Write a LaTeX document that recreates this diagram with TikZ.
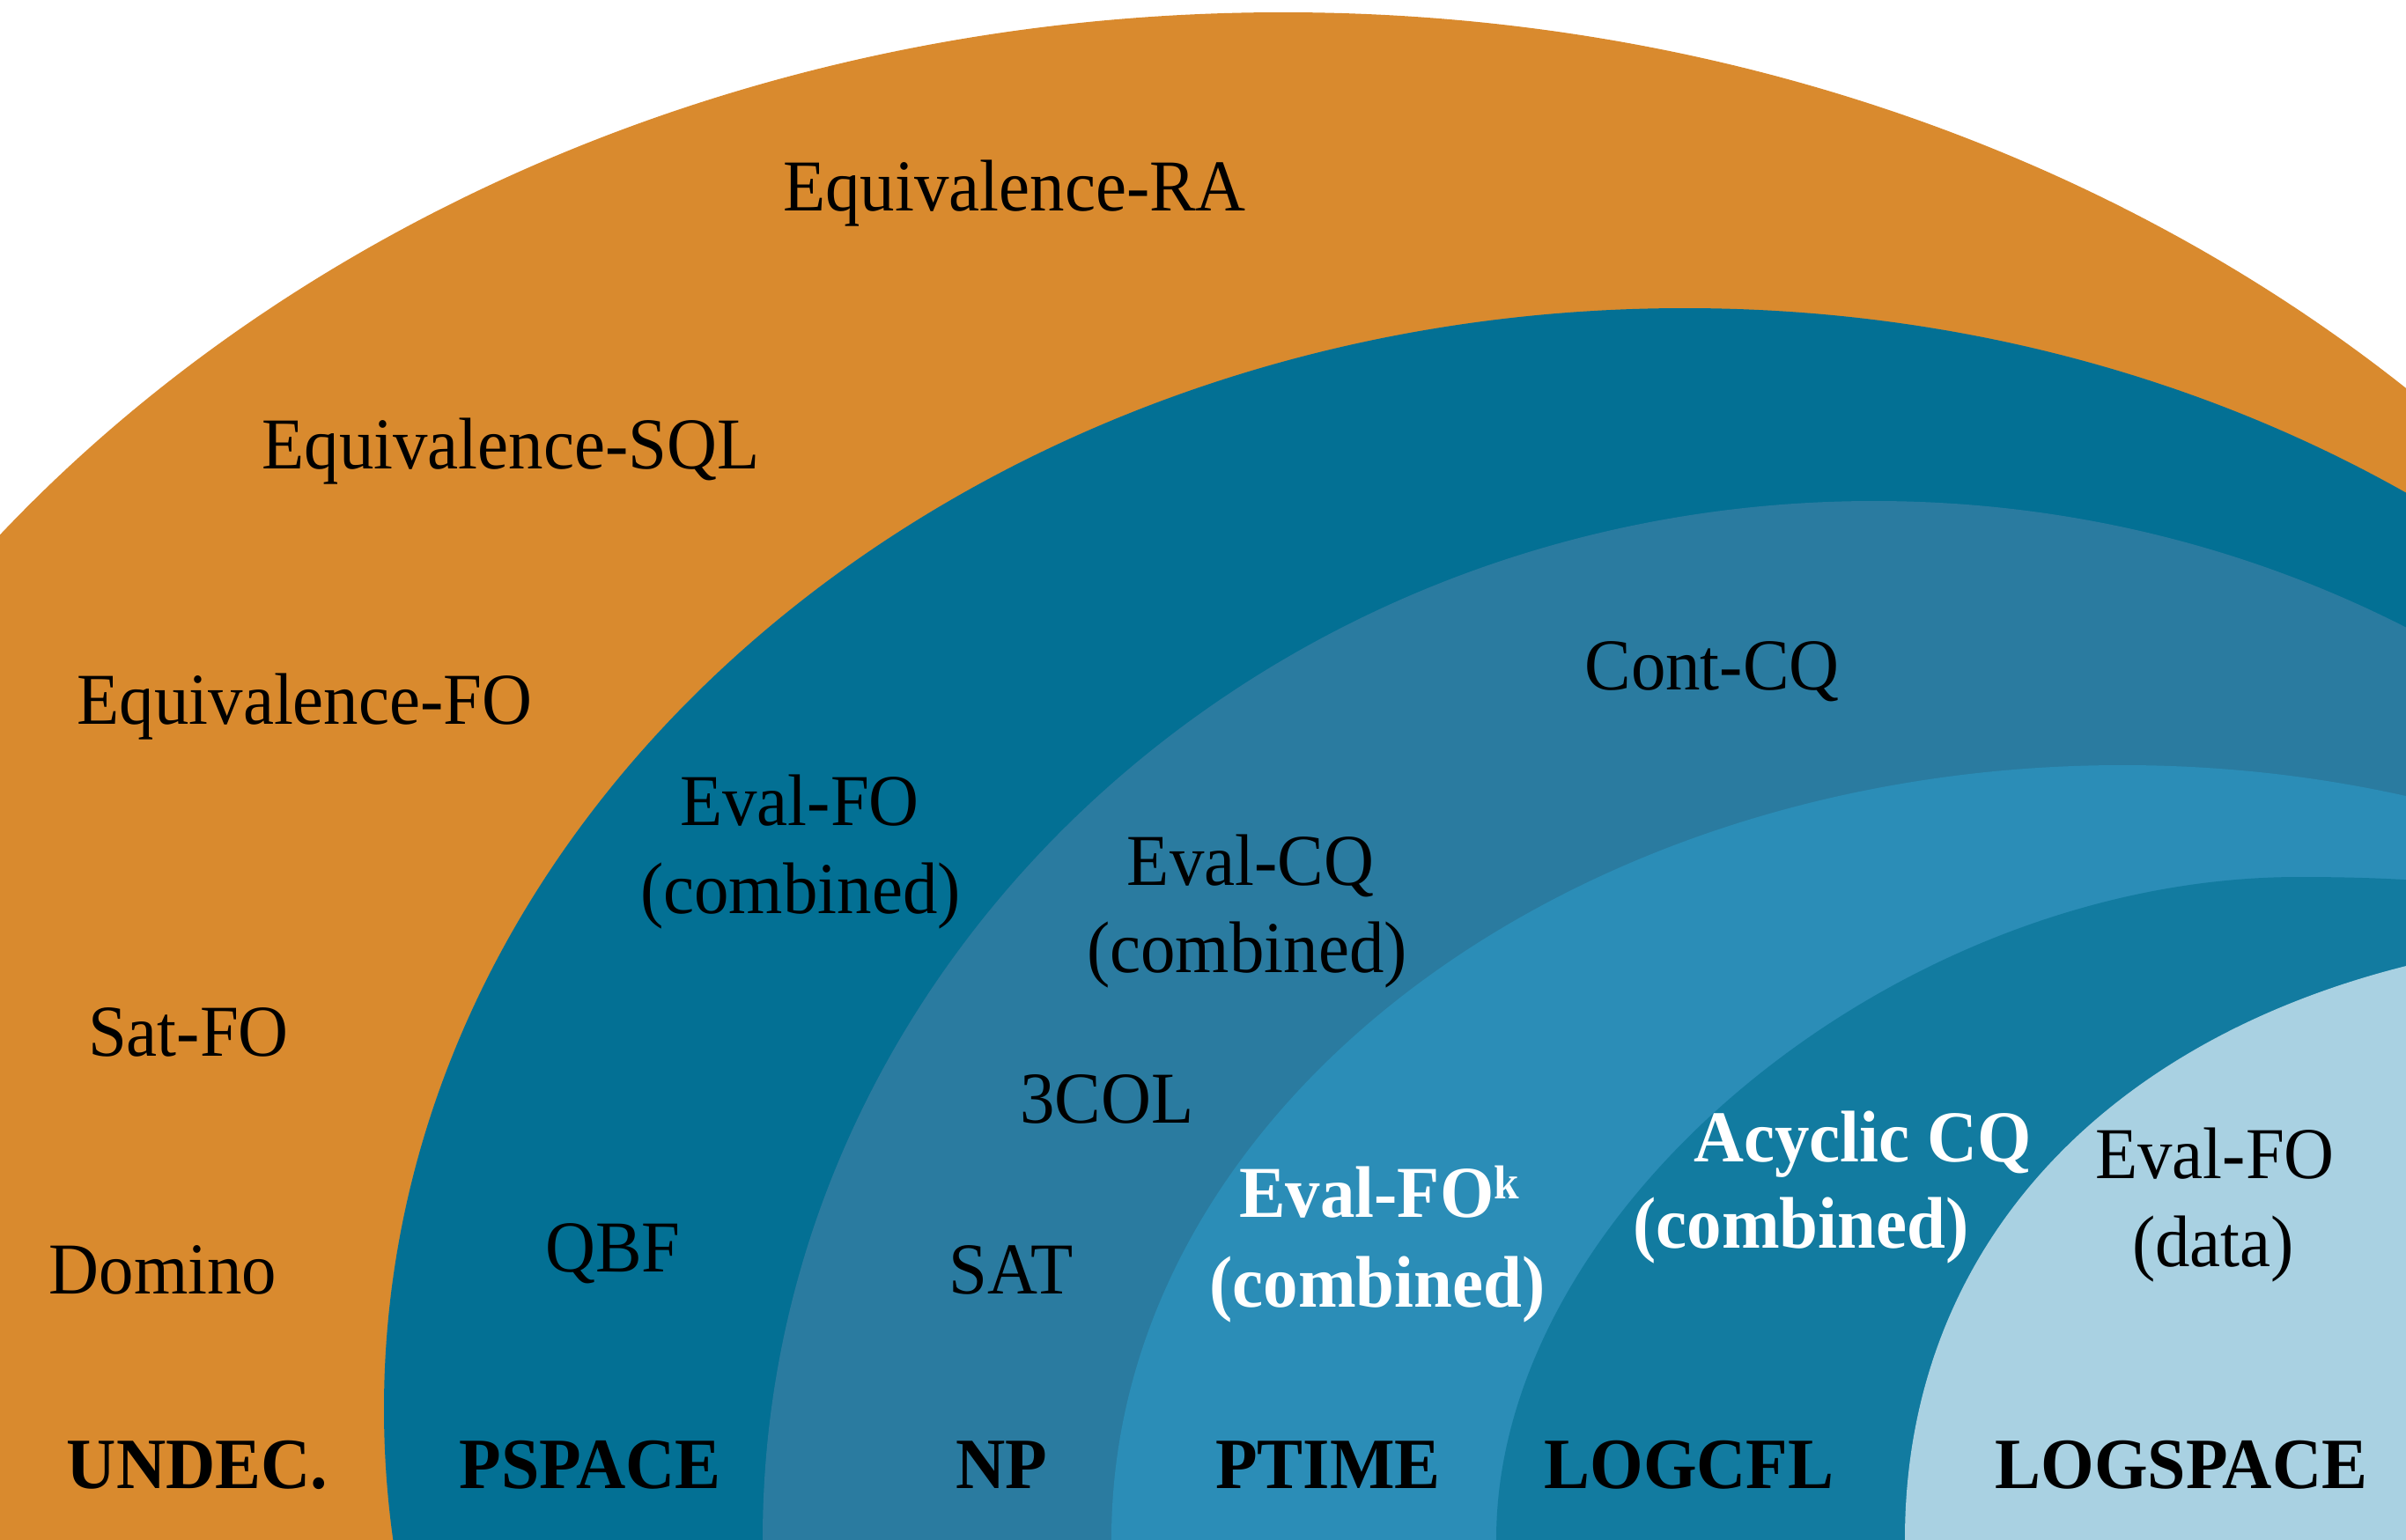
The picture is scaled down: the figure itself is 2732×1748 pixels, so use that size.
\documentclass[tikz,border=0pt]{standalone}
\usepackage{fontspec}
\setmainfont[FakeStretch=0.95]{Liberation Serif}
\definecolor{undeccol}{HTML}{D98A2E}
\definecolor{pspacecol}{HTML}{037094}
\definecolor{npcol}{HTML}{2A7BA0}
\definecolor{ptimecol}{HTML}{2B8DB7}
\definecolor{logcflcol}{HTML}{127BA0}
\definecolor{logspacecol}{HTML}{A9D1E2}
\begin{document}
\begin{tikzpicture}[x=1pt,y=-1pt,
  lbl/.style={anchor=base, inner sep=0pt, text=black, font=\fontsize{83}{100}\selectfont},
  wlbl/.style={anchor=base, inner sep=0pt, text=white, font=\fontsize{83}{100}\selectfont\bfseries},
  cls/.style={anchor=base, inner sep=0pt, text=black, font=\fontsize{82}{100}\selectfont\bfseries}]
\useasboundingbox (0,0) rectangle (2732,1748);
\begin{scope}
  \clip (0,0) rectangle (2732,1748);
  % nested complexity classes, outermost first
  \fill[undeccol] (1457,1600) ellipse [x radius=1868, y radius=1586];
  \fill[pspacecol] (1913,1600) ellipse [x radius=1477, y radius=1250];
  \fill[npcol] (2128,1748) ellipse [x radius=1262, y radius=1179];
  \fill[ptimecol] (2410,1748) ellipse [x radius=1148, y radius=879];
  \fill[logcflcol] (1699,1800) -- (1699,1748)
     .. controls (1699,1372) and (2155,996) .. (2610,996)
     .. controls (2690,996) and (2740,999) .. (2800,1004)
     -- (2800,1800) -- cycle;
  \fill[logspacecol] (2163,1800) -- (2163,1748)
     .. controls (2163,1335) and (2518,1060) .. (3050,1060)
     -- (3050,1800) -- cycle;
\end{scope}

% problems
\node[lbl] (eqra)  at (1152,239) {Equivalence-RA};
\node[lbl] (eqsql) at (580,532)  {Equivalence-SQL};
\node[lbl] (eqfo)  at (346,822)  {Equivalence-FO};
\node[lbl] (satfo) at (214,1199) {Sat-FO};
\node[lbl] (domino) at (185,1469) {Domino};

\node[lbl] (evalfo1) at (908,937)  {Eval-FO};
\node[lbl] (evalfo2) at (909,1037) {(combined)};
\node[lbl] (qbf)     at (696,1444) {QBF};

\node[lbl] (contcq)  at (1944,783)  {Cont-CQ};
\node[lbl] (evalcq1) at (1420,1005) {Eval-CQ};
\node[lbl] (evalcq2) at (1416,1104) {(combined)};
\node[lbl] (threecol) at (1257,1275) {3COL};
\node[lbl] (sat)     at (1148,1469) {SAT};

\node[wlbl] (evalfok1) at (1566,1382) {Eval-FO\raisebox{21pt}{\fontsize{54}{54}\selectfont k}};
\node[wlbl] (evalfok2) at (1564,1484) {(combined)};

\node[wlbl] (acq1) at (2115,1319) {Acyclic CQ};
\node[wlbl] (acq2) at (2045,1417) {(combined)};

\node[lbl] (evalfod1) at (2515,1338) {Eval-FO};
\node[lbl] (evalfod2) at (2513,1438) {(data)};

% class names
\node[cls] (cundec)    at (224,1690)  {UNDEC.};
\node[cls] (cpspace)   at (670,1690)  {PSPACE};
\node[cls] (cnp)       at (1137,1690) {NP};
\node[cls] (cptime)    at (1508,1690) {PTIME};
\node[cls] (clogcfl)   at (1918,1690) {LOGCFL};
\node[cls] (clogspace) at (2477,1690) {LOGSPACE};
\end{tikzpicture}
\end{document}
